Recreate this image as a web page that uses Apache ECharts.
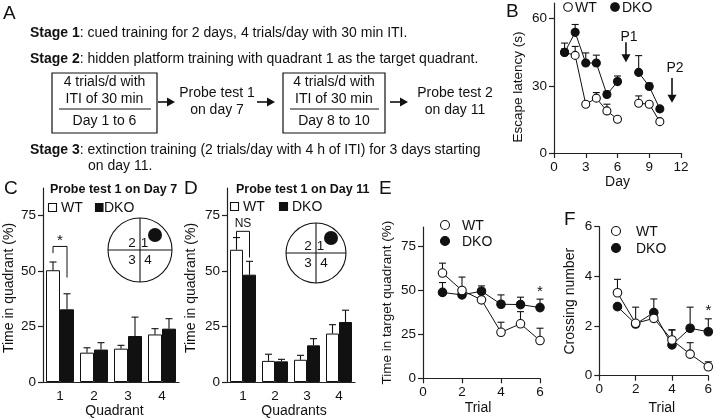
<!DOCTYPE html>
<html><head><meta charset="utf-8">
<script src="https://cdn.jsdelivr.net/npm/echarts@6/dist/echarts.min.js"></script>
<style>html,body{margin:0;padding:0;background:#fff}#c{width:720px;height:419px}</style>
</head><body><div id="c"></div>
<script>
const FONT = '"Liberation Sans", Arial, Helvetica, sans-serif';
const INK = '#111';
// ---------- Panel B: escape latency ----------
const bDays = [1, 2, 3, 4, 5, 6, 7, 8, 9, 10];
const bWT = [45, 43.6, 21.8, 24.5, 18.8, 15.1, null, 22.2, 21.8, 14.0];
const bWTerr = [1.5, 4, 1, 2.5, 3, 1, null, 3.3, 1, 1];
const bDKO = [44.9, 53.9, 40.2, 40.2, 26.1, 31.9, null, 36, 29.7, 19.7];
const bDKOerr = [4.2, 3.5, 4.5, 3.5, 1.5, 2.5, null, 7.5, 1.5, 1];
const bYTicks = [0, 30, 60];
// ---------- Panel C: probe test 1 (day 7) ----------
const quadrants = ['1', '2', '3', '4'];
const cWT = [50.3, 13.2, 15, 21.4];
const cWTerr = [3.7, 2.2, 1.5, 2.6];
const cDKO = [32.7, 14.6, 20.7, 24];
const cDKOerr = [7, 3.1, 8.5, 4.5];
const pctTicks = [0, 25, 50, 75];
// ---------- Panel D: probe test (day 11) ----------
const dWT = [59.5, 9.5, 10, 21.8];
const dWTerr = [5.5, 3, 2, 4];
const dDKO = [48.3, 9.3, 16.5, 27];
const dDKOerr = [6, 0.9, 3, 5.3];
// ---------- Panel E: time in target quadrant ----------
const trials = [1, 2, 3, 4, 5, 6];
const eWT = [59.7, 49.8, 44.5, 26.1, 30.9, 21.4];
const eWTerr = [5.6, 7.6, 1, 5.7, 6.9, 7];
const eDKO = [48.7, 47.3, 49.4, 42, 41.8, 40.1];
const eDKOerr = [5.6, 1, 3, 5.3, 4.2, 4.8];
// ---------- Panel F: crossing number ----------
const fWT = [3.34, 2.11, 2.31, 1.44, 0.87, 0.36];
const fWTerr = [0.54, 0.1, 0.1, 0.41, 0.46, 0.2];
const fDKO = [2.78, 2.08, 2.54, 1.24, 1.91, 1.77];
const fDKOerr = [0.1, 0.68, 0.55, 0.6, 0.85, 0.52];
const fYTicks = [0, 2, 4, 6];

const chart = echarts.init(document.getElementById('c'), null, {renderer: 'canvas'});

const axLine = {show: true, lineStyle: {color: '#222', width: 1.2}};
const axTick = {show: true, length: 5, lineStyle: {color: '#222', width: 1.2}};
const lbl = (extra) => Object.assign({color: INK, fontSize: 13.5, fontFamily: FONT, margin: 7}, extra || {});
const nameStyle = (fs, pad) => ({color: INK, fontSize: fs, fontFamily: FONT, padding: pad || 0});

function xVal(g, max, interval, name, gap, pad) {
  return {gridIndex: g, type: 'value', min: 0, max: max, interval: interval, name: name,
    nameLocation: 'middle', nameGap: gap, nameTextStyle: nameStyle(14, pad),
    axisLine: axLine, axisTick: axTick, axisLabel: lbl(), splitLine: {show: false}};
}
function yVal(g, max, ticks, name, gap, fs, pad) {
  return {gridIndex: g, type: 'value', min: 0, max: max, name: name, nameLocation: 'middle',
    nameGap: gap, nameTextStyle: nameStyle(fs, pad),
    axisLine: axLine, axisTick: Object.assign({customValues: ticks}, axTick),
    axisLabel: lbl({customValues: ticks}), splitLine: {show: false}};
}
function xCat(g, name, gap, pad) {
  return {gridIndex: g, type: 'category', data: quadrants, name: name, nameLocation: 'middle',
    nameGap: gap, nameTextStyle: nameStyle(14, pad), axisLine: axLine, axisTick: {show: false},
    axisLabel: lbl()};
}

function errBars(g, xs, means, errs, offset, z) {
  const data = [];
  means.forEach((m, i) => { if (m != null) data.push([xs[i], m, m + errs[i]]); });
  return {type: 'custom', xAxisIndex: g, yAxisIndex: g, z: z, silent: true,
    encode: {x: 0, y: [1, 2]}, data: data,
    renderItem: (params, api) => {
      const p0 = api.coord([api.value(0), api.value(1)]);
      const p1 = api.coord([api.value(0), api.value(2)]);
      const x = p0[0] + offset;
      return {type: 'group', children: [
        {type: 'line', shape: {x1: x, y1: p0[1], x2: x, y2: p1[1]}, style: {stroke: INK, lineWidth: 1.1}},
        {type: 'line', shape: {x1: x - 3.5, y1: p1[1], x2: x + 3.5, y2: p1[1]}, style: {stroke: INK, lineWidth: 1.1}}
      ]};
    }};
}
function lineSeries(g, name, xs, ys, filled, size, z) {
  return {type: 'line', name: name, xAxisIndex: g, yAxisIndex: g, z: z, silent: true,
    data: xs.map((x, i) => [x, ys[i] == null ? '-' : ys[i]]), connectNulls: false,
    symbol: 'circle', symbolSize: size, showSymbol: true,
    lineStyle: {color: INK, width: 1},
    itemStyle: {color: filled ? INK : '#fff', borderColor: INK, borderWidth: 1.1}};
}
function barSeries(g, name, vals, filled, w) {
  return {type: 'bar', name: name, xAxisIndex: g, yAxisIndex: g, data: vals, barWidth: w,
    barGap: '0%', silent: true, z: 2,
    itemStyle: {color: filled ? INK : '#fff', borderColor: INK, borderWidth: 1}};
}

const option = {
  animation: false,
  backgroundColor: '#fff',
  grid: [
    {left: 554, top: 3, width: 127, height: 150},
    {left: 43, top: 188, width: 136, height: 194},
    {left: 227, top: 188, width: 128, height: 194},
    {left: 423, top: 227, width: 117, height: 151.3},
    {left: 599.3, top: 226.7, width: 109, height: 149}
  ],
  xAxis: [
    xVal(0, 12, 3, 'Day', 19),
    xCat(1, 'Quadrant', 21, [0, 0, 0, 7]),
    xCat(2, 'Quadrants', 21, [0, 0, 0, 6]),
    xVal(3, 6, 2, 'Trial', 23, [0, 7, 0, 0]),
    xVal(4, 6, 2, 'Trial', 25, [0, 0, 0, 16])
  ],
  yAxis: [
    yVal(0, 67, bYTicks, 'Escape latency (s)', 29, 13.5, [0, 18, 0, 0]),
    yVal(1, 87.3, pctTicks, 'Time in quadrant (%)', 27, 14, [0, 6, 0, 0]),
    yVal(2, 87.3, pctTicks, 'Time in quadrant (%)', 29, 14, [0, 6, 0, 0]),
    yVal(3, 85.8, pctTicks, 'Time in target quadrant (%)', 29, 13.5),
    yVal(4, 6, fYTicks, 'Crossing number', 22, 14)
  ],
  series: [
    errBars(0, bDays, bWT, bWTerr, 0, 1),
    errBars(0, bDays, bDKO, bDKOerr, 0, 1),
    lineSeries(0, 'WT', bDays, bWT, false, 8, 2),
    lineSeries(0, 'DKO', bDays, bDKO, true, 8, 3),

    barSeries(1, 'WT', cWT, false, 14),
    barSeries(1, 'DKO', cDKO, true, 14),
    errBars(1, [0, 1, 2, 3], cWT, cWTerr, -7, 3),
    errBars(1, [0, 1, 2, 3], cDKO, cDKOerr, 7, 3),

    barSeries(2, 'WT', dWT, false, 13),
    barSeries(2, 'DKO', dDKO, true, 13),
    errBars(2, [0, 1, 2, 3], dWT, dWTerr, -6.5, 3),
    errBars(2, [0, 1, 2, 3], dDKO, dDKOerr, 6.5, 3),

    errBars(3, trials, eWT, eWTerr, 0, 1),
    errBars(3, trials, eDKO, eDKOerr, 0, 1),
    lineSeries(3, 'DKO', trials, eDKO, true, 8.5, 2),
    lineSeries(3, 'WT', trials, eWT, false, 8.5, 3),

    errBars(4, trials, fWT, fWTerr, 0, 1),
    errBars(4, trials, fDKO, fDKOerr, 0, 1),
    lineSeries(4, 'DKO', trials, fDKO, true, 8.5, 2),
    lineSeries(4, 'WT', trials, fWT, false, 8.5, 3)
  ]
};
chart.setOption(option);

// ---------- annotations / diagram ----------
const px = (g, x, y) => chart.convertToPixel({xAxisIndex: g, yAxisIndex: g}, [x, y]);
const T = (x, y, text, extra) => ({type: 'text', x: x, y: y, silent: true,
  style: Object.assign({text: text, fontFamily: FONT, fontSize: 14, fill: INK, align: 'left', verticalAlign: 'middle'}, extra || {})});
const Lg = (x1, y1, x2, y2, w) => ({type: 'line', silent: true, shape: {x1: x1, y1: y1, x2: x2, y2: y2}, style: {stroke: INK, lineWidth: w || 1}});
const arrowR = (x1, x2, y) => [Lg(x1, y, x2 - 5, y, 1.6),
  {type: 'polygon', silent: true, shape: {points: [[x2 - 8, y - 4.5], [x2, y], [x2 - 8, y + 4.5]]}, style: {fill: INK}}];
const arrowD = (x, y1, y2) => [Lg(x, y1, x, y2 - 5, 1.6),
  {type: 'polygon', silent: true, shape: {points: [[x - 4.5, y2 - 8], [x, y2], [x + 4.5, y2 - 8]]}, style: {fill: INK}}];
const circ = (cx, cy, r, fill) => ({type: 'circle', silent: true, shape: {cx: cx, cy: cy, r: r},
  style: {fill: fill, stroke: INK, lineWidth: 1.1}});
const rect = (x, y, w, h, fill, lw) => ({type: 'rect', silent: true, shape: {x: x, y: y, width: w, height: h},
  style: {fill: fill, stroke: INK, lineWidth: lw || 1.1}});
const bold = {b: {fontWeight: 'bold', fontFamily: FONT, fontSize: 14, fill: INK}};

const els = [];
// Panel letters
[['A', 3, 14], ['B', 506, 12], ['C', 4, 189], ['D', 184, 189], ['E', 379, 189], ['F', 564, 220]]
  .forEach(a => els.push(T(a[1], a[2], a[0], {fontSize: 19})));

// Panel A text
els.push(T(30, 33, '{b|Stage 1}: cued training for 2 days, 4 trials/day with 30 min ITI.', {rich: bold}));
els.push(T(30, 59, '{b|Stage 2}: hidden platform training with quadrant 1 as the target quadrant.', {rich: bold}));
els.push(T(30, 150, '{b|Stage 3}: extinction training (2 trials/day with 4 h of ITI) for 3 days starting', {rich: bold}));
els.push(T(88, 166, 'on day 11.'));
// boxes
function box(x, w, bottomText) {
  const cx = x + w / 2;
  els.push(rect(x, 73, w, 60, null, 1.2));
  els.push(T(cx, 82, '4 trials/d with', {align: 'center'}));
  els.push(T(cx, 99, 'ITI of 30 min', {align: 'center'}));
  els.push(Lg(x + 7, 109, x + w - 6, 109, 1));
  els.push(T(cx, 121, bottomText, {align: 'center'}));
}
box(52, 105, 'Day 1 to 6');
box(283, 102, 'Day 8 to 10');
els.push(...arrowR(158, 175, 102));
els.push(...arrowR(257, 275, 102));
els.push(...arrowR(390, 408, 102));
els.push(T(217, 93, 'Probe test 1', {align: 'center'}));
els.push(T(217, 110, 'on day 7', {align: 'center'}));
els.push(T(455, 93, 'Probe test 2', {align: 'center'}));
els.push(T(455, 110, 'on day 11', {align: 'center'}));

// Panel B legend + arrows
els.push(circ(568, 7, 4.3, '#fff'), T(575, 8, 'WT'), circ(615, 7, 4.3, INK), T(622, 8, 'DKO'));
{
  const t1 = px(0, 6.8, 52), a1 = px(0, 6.8, 49.5), b1 = px(0, 6.8, 40.5);
  els.push(T(t1[0] + 3, t1[1] + 1, 'P1', {align: 'center', fontSize: 14}));
  els.push(...arrowD(a1[0], a1[1], b1[1]));
  const t2 = px(0, 11.15, 38.5), a2 = px(0, 11.15, 33.5), b2 = px(0, 11.15, 22.5);
  els.push(T(t2[0] + 3, t2[1] + 1, 'P2', {align: 'center', fontSize: 14}));
  els.push(...arrowD(a2[0], a2[1], b2[1]));
}

// Panel C / D titles and legends
els.push(T(50, 190, 'Probe test 1 on Day 7', {fontWeight: 'bold', fontSize: 12.5}));
els.push(T(236, 190, 'Probe test 1 on Day 11', {fontWeight: 'bold', fontSize: 12.5}));
els.push(rect(48.5, 203.5, 8, 8, '#fff'), T(61, 208, 'WT'), rect(95.5, 203.5, 7.5, 8, INK), T(104, 208, 'DKO'));
els.push(rect(230.5, 202.5, 8, 8, '#fff'), T(243, 207, 'WT'), rect(279.5, 202.5, 8, 8, INK), T(292, 207, 'DKO'));

// significance brackets
{
  const l0 = px(1, 0, 61), lb = px(1, 0, 58), rb = px(1, 0, 47);
  const xl = l0[0] - 7, xr = l0[0] + 7;
  els.push(Lg(xl, l0[1], xr, l0[1], 1), Lg(xl, l0[1], xl, lb[1], 1), Lg(xr, l0[1], xr, rb[1], 1));
  els.push(T(l0[0], l0[1] - 6, '*', {align: 'center', fontSize: 15}));
  const d0 = px(2, 0, 67.8), dlb = px(2, 0, 63), drb = px(2, 0, 56);
  const dxl = d0[0] - 6.5, dxr = d0[0] + 6.5;
  els.push(Lg(dxl, d0[1], dxr, d0[1], 1), Lg(dxl, d0[1], dxl, dlb[1], 1), Lg(dxr, d0[1], dxr, drb[1], 1));
  els.push(T(d0[0], d0[1] - 8, 'NS', {align: 'center', fontSize: 12}));
}
// quadrant insets
function inset(cx, cy, r) {
  els.push(circ(cx, cy, r, '#fff'));
  els.push(Lg(cx, cy - r, cx, cy + r, 1.1), Lg(cx - r, cy, cx + r, cy, 1.1));
  els.push({type: 'circle', silent: true, shape: {cx: cx + 15, cy: cy - 15, r: 7}, style: {fill: INK}});
  els.push(T(cx - 8, cy - 7, '2', {align: 'center', fontSize: 13.5}));
  els.push(T(cx + 4.5, cy - 7, '1', {align: 'center', fontSize: 13.5}));
  els.push(T(cx - 8, cy + 10, '3', {align: 'center', fontSize: 13.5}));
  els.push(T(cx + 8, cy + 10, '4', {align: 'center', fontSize: 13.5}));
}
inset(140, 250, 32);
inset(316, 253, 30);

// Panel E / F legends and asterisks
els.push(circ(445, 225, 4.5, '#fff'), T(462, 226, 'WT'), circ(445, 241, 4.5, INK), T(462, 242, 'DKO'));
els.push(circ(616, 231, 4.5, '#fff'), T(636, 232, 'WT'), circ(616, 248, 4.5, INK), T(636, 249, 'DKO'));
{
  const e = px(3, 6, 50.5);
  els.push(T(e[0], e[1] + 3, '*', {align: 'center', fontSize: 15}));
  const f = px(4, 6, 2.72);
  els.push(T(f[0], f[1] + 3, '*', {align: 'center', fontSize: 15}));
}

chart.setOption({graphic: {elements: els}});
</script></body></html>
